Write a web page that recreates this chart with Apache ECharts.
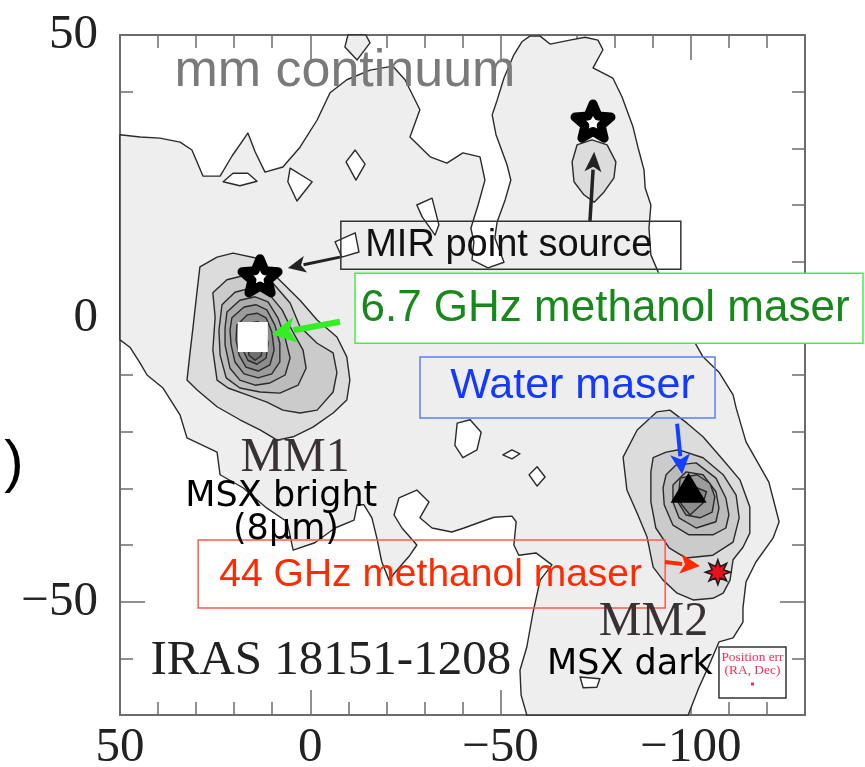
<!DOCTYPE html>
<html><head><meta charset="utf-8">
<script src="https://cdn.jsdelivr.net/npm/echarts@6/dist/echarts.min.js"></script>
<style>html,body{margin:0;padding:0;background:#fff}#chart{width:865px;height:767px}</style>
</head><body><div id="chart"></div>
<script>
// ---------- axis ranges & ticks (arcsec offsets) ----------
const X_MIN = -130, X_MAX = 50, Y_MIN = -70, Y_MAX = 50;
const xMajorTicks = [50, 0, -50, -100];
const yMajorTicks = [50, 0, -50];

// ---------- lowest contour level (outer boundary, arcsec) ----------
const level1Region = [[50,32.4],[44.7,32.0],[39.5,31.8],[34.2,31.1],[31.1,29.7],[28.2,25.1],[23.7,25.1],[20.6,28.6],[16.4,32.7],[14.5,29.4],[11.9,25.8],[7.2,26.7],[2.7,30.2],[-1.8,35.0],[-5.2,39.8],[-9.6,42.1],[-15.7,43.8],[-21.7,44.5],[-24.9,42.1],[-28.8,36.8],[-26.2,32.0],[-31.5,28.5],[-35.9,27.4],[-40.1,29.2],[-44.6,28.5],[-45.9,24.4],[-44.1,20.0],[-42.2,15.9],[-43.0,13.5],[-42.5,10.3],[-46.7,8.9],[-50.9,9.9],[-48.5,14.2],[-49.1,17.0],[-51.2,20.9],[-52.7,24.4],[-51.7,27.1],[-48.8,32.4],[-47.8,35.9],[-49.1,38.5],[-50.9,42.4],[-53.5,46.5],[-55.6,48.8],[-57.7,49.8],[-60.4,49.8],[-63.0,48.4],[-68.2,49.1],[-72.2,49.6],[-75.6,49.1],[-76.9,47.4],[-74.3,44.2],[-79.5,42.4],[-81.9,39.1],[-84.8,33.8],[-86.1,30.2],[-87.7,26.2],[-88.0,23.0],[-89.5,20.0],[-89.0,15.9],[-89.5,11.2],[-91.4,8.2],[-97.2,1.5],[-101.4,-4.7],[-103.2,-6.8],[-107.4,-9.5],[-111.1,-13.5],[-111.9,-15.8],[-114.5,-21.8],[-120.5,-28.9],[-123.2,-35.9],[-121.6,-38.8],[-117.1,-43.0],[-114.5,-46.5],[-113.7,-51.1],[-113.7,-53.6],[-111.1,-56.4],[-107.4,-57.1],[-104.8,-61.2],[-102.1,-65.2],[-100.0,-68.8],[-99.3,-70],[-56.9,-70],[-55.4,-66.5],[-55.1,-62.1],[-56.9,-58.0],[-58.5,-52.0],[-60.4,-46.2],[-63.5,-43.5],[-59.3,-41.4],[-54.8,-41.8],[-53.5,-40.0],[-54.1,-35.9],[-53.0,-34.9],[-48.3,-35.1],[-44.9,-35.9],[-40.4,-37.0],[-37.2,-37.7],[-32.0,-37.0],[-28.8,-35.2],[-31.2,-32.4],[-28.0,-30.3],[-23.3,-31.7],[-22.0,-34.7],[-24.1,-37.0],[-28.0,-40.0],[-26.2,-41.8],[-22.3,-44.8],[-20.7,-46.2],[-18.8,-43.0],[-17.5,-38.8],[-16.2,-35.2],[-14.1,-32.9],[-12.3,-32.9],[-11.5,-35.6],[-6.5,-37.0],[-1.2,-39.6],[4.5,-40.9],[6.1,-35.9],[11.4,-33.5],[17.7,-29.9],[23.7,-27.6],[24.5,-23.6],[32.4,-21.1],[34.2,-17.1],[38.7,-12.3],[42.9,-10.0],[44.7,-7.9],[47.4,-5.1],[50,-3.8]];

const level1Islands = [
  [[-9.9,50],[-9.1,47.9],[-12.3,45.6],[-15.7,48.6],[-14.6,50]]
];

const level1Holes = [
  [[22.9,24.1],[20.3,25.6],[16.4,25.6],[14.0,24.2],[18.5,23.4]],
  [[5.3,26.5],[-0.5,24.1],[3.5,20.7],[5.9,24.1]],
  [[-11.8,29.7],[-14.4,27.2],[-12.0,24.4],[-9.4,27.6]],
  [[-28.0,20.0],[-32.0,21.2],[-33.8,16.5],[-32.8,14.7],[-29.4,17.9]],
  [[-6.5,13.5],[-11.8,15.1],[-12.8,11.7],[-8.3,10.8]],
  [[-38.6,-18.5],[-42.0,-17.9],[-44.9,-20.1],[-43.8,-23.2],[-40.1,-24.6],[-38.0,-22.4]],
  [[-50.6,-24.1],[-53.0,-23.2],[-55.1,-23.9],[-53.0,-24.8]],
  [[-57.5,-27.6],[-59.6,-26.2],[-61.7,-28.0],[-59.6,-29.6]],
  [[-70.9,-63.3],[-76.1,-63.6],[-75.3,-65.1],[-71.7,-65.2]]
];

// ---------- higher contour levels ----------
const mirSourceLevel2 = [[-70.1,30.6],[-74.0,31.5],[-78.0,30.6],[-80.3,27.6],[-79.8,24.8],[-77.2,22.3],[-74.6,20.5],[-71.9,21.8],[-69.3,24.1],[-68.8,27.6]];

const mm1Levels = [
  [[29.0,9.1],[24.5,10.8],[20.3,11.5],[14.0,10.6],[7.2,6.2],[2.7,3.2],[-1.8,-0.3],[-7.0,-3.3],[-9.6,-6.8],[-10.4,-10.9],[-9.6,-14.4],[-6.0,-16.7],[-0.7,-19.2],[4.5,-20.9],[8.7,-21.5],[13.2,-19.7],[18.5,-17.9],[24.5,-15.6],[29.8,-12.6],[32.4,-10.9],[31.6,-6.1],[30.8,-1.5],[29.8,4.5]],
  [[25.6,4.5],[21.9,6.8],[17.2,7.6],[12.7,7.1],[9.8,6.2],[5.3,2.7],[2.7,-1.5],[-1.8,-4.4],[-6.0,-6.1],[-7.0,-9.6],[-6.0,-13.0],[-1.8,-16.2],[2.7,-16.7],[7.2,-16.2],[11.4,-14.8],[16.6,-13.5],[21.6,-12.3],[24.5,-10.9],[25.6,-5.6],[25.0,0.2]],
  [[23.2,2.4],[19.8,4.6],[15.3,5.4],[11.1,4.5],[7.4,1.5],[4.8,-2.1],[1.9,-5.6],[1.1,-8.8],[3.2,-11.8],[8.0,-13.2],[13.2,-13.0],[18.5,-12.3],[22.1,-10.5],[23.7,-6.5],[24.0,-2.1]],
  [[21.9,1.1],[18.5,3.2],[14.5,3.8],[11.1,2.9],[8.5,0.1],[6.6,-3.5],[5.3,-7.0],[6.6,-10.0],[10.6,-11.4],[14.5,-11.8],[18.5,-10.9],[21.1,-8.8],[22.4,-4.7],[22.4,-1.7]],
  [[20.6,0.1],[17.4,2.0],[14.3,2.4],[11.4,1.5],[9.3,-1.2],[8.0,-4.4],[8.0,-7.7],[10.1,-9.8],[13.7,-10.5],[17.4,-9.8],[19.8,-7.7],[20.8,-4.7],[21.1,-2.1]],
  [[19.3,-1.2],[16.6,0.6],[14.0,0.9],[11.6,0.1],[10.1,-2.4],[9.5,-5.6],[10.6,-8.2],[13.7,-9.3],[16.9,-8.6],[18.7,-6.5],[19.5,-3.8]],
  [[17.9,-2.4],[15.8,-0.8],[13.7,-0.6],[11.9,-1.7],[11.1,-4.4],[11.6,-7.0],[14.0,-8.1],[16.4,-7.4],[17.7,-5.6]],
  [[16.6,-3.8],[15.1,-2.6],[13.2,-2.8],[12.4,-4.7],[12.9,-6.6],[14.5,-7.4],[16.1,-6.5]]
];

const mm2Levels = [
  [[-82.2,-24.5],[-85.9,-19.7],[-91.1,-16.5],[-94.5,-16.2],[-99.0,-18.5],[-103.2,-20.9],[-108.5,-25.0],[-112.9,-28.5],[-115.5,-33.3],[-115.5,-37.9],[-113.7,-40.4],[-111.1,-42.6],[-110.3,-46.2],[-108.5,-48.5],[-105.8,-49.4],[-100.6,-49.7],[-96.4,-48.5],[-92.7,-46.2],[-90.1,-43.9],[-88.5,-38.6],[-85.9,-34.4],[-83.2,-30.3]],
  [[-90.1,-24.6],[-93.5,-23.6],[-96.9,-23.2],[-103.2,-24.6],[-108.5,-27.6],[-111.9,-31.2],[-112.7,-35.2],[-111.1,-39.5],[-105.8,-41.8],[-98.7,-42.3],[-94.3,-40.5],[-90.8,-37.0],[-89.5,-32.4],[-89.5,-27.1]],
  [[-93.5,-27.6],[-96.1,-25.9],[-101.4,-25.5],[-106.6,-28.2],[-109.2,-31.7],[-110.0,-34.7],[-109.2,-37.0],[-105.8,-38.2],[-99.5,-38.2],[-95.3,-36.5],[-93.0,-32.9],[-92.7,-29.9]],
  [[-95.3,-29.4],[-98.7,-27.1],[-103.2,-27.6],[-106.6,-30.6],[-107.4,-33.5],[-106.6,-35.9],[-101.4,-37.0],[-96.9,-35.2],[-95.3,-32.4]],
  [[-97.2,-28.2],[-101.6,-27.6],[-105.0,-29.1],[-106.3,-31.5],[-105.6,-34.2],[-102.4,-35.2],[-98.7,-34.7],[-96.6,-32.4]],
  [[-96.6,-31.2],[-99.8,-29.4],[-104.1,-30.6],[-103.2,-32.6],[-99.8,-34.7],[-97.6,-32.9]]
];

// ---------- point sources / masers ----------
const mirPointSources = [[13.2, 7.5], [-74.3, 34.8]];
const methanol67Masers = [[15.1, -3.3]];
const waterMasers = [[-99.4, -29.9]];
const methanol44Masers = [[-107.1, -44.8]];

// ---------- annotations ----------
const boxedLabels = ['MIR point source', '6.7 GHz methanol maser', 'Water maser', '44 GHz methanol maser'];
const boxedLabelAnchors = [[-52.7, 12.9], [-78.5, 1.8], [-67.6, -12.2], [-31.9, -45.1]];
const plainLabels = ['mm continuum', 'MM1', 'MSX bright', '(8\u03bcm)', 'MM2', 'MSX dark', 'IRAS 18151-1208', ')'];
const plainLabelAnchors = [[-9.1, 43.6], [4.0, -24.8], [7.6, -31.5], [6.4, -37.4], [-90.2, -53.6], [-84.0, -61.1], [-5.4, -60.5], [77.9, -25.9]];
const arrowFrom = [[-7.8, 10.8], [-73.5, 17.2], [-7.8, -0.6], [-96.4, -18.6], [-93.2, -43.0]];
const arrowTo = [[5.9, 8.9], [-74.6, 29.4], [10.1, -2.8], [-97.7, -27.5], [-102.4, -43.7]];
const posErrAnchor = [[-116.2, -62.5]];

// ---------- styles ----------
const levelFills = ['#eeeeee', '#dcdcdc', '#cbcbcb', '#bbbbbb', '#ababab', '#9c9c9c', '#8d8d8d', '#7e7e7e', '#707070'];
const lineColor = '#2a2a2a';
const frameColor = '#6c6c6c';
const boxStyles = [
  {w: 340, h: 48, size: 38, color: '#111111', border: '#333333', fill: 'rgba(0,0,0,0)', dx: -2, dy: 0},
  {w: 508, h: 70, size: 44, color: '#17891a', border: '#44ee44', fill: '#ffffff', dx: -4, dy: 1},
  {w: 295, h: 61, size: 43, color: '#1438ff', border: '#5a7cff', fill: 'rgba(0,0,0,0)', dx: 5, dy: -1},
  {w: 467, h: 68, size: 39, color: '#ff2a00', border: '#ff5a4a', fill: 'rgba(0,0,0,0)', dx: -1, dy: 1}
];
const plainStyles = [
  {size: 52, family: 'Liberation Sans', color: '#7a7a7a'},
  {size: 48, family: 'Liberation Serif', color: '#3a3232'},
  {size: 35, family: 'DejaVu Sans', color: '#000000'},
  {size: 35, family: 'DejaVu Sans', color: '#000000'},
  {size: 48, family: 'Liberation Serif', color: '#3a3232'},
  {size: 35, family: 'DejaVu Sans', color: '#000000'},
  {size: 49, family: 'Liberation Serif', color: '#222222'},
  {size: 58, family: 'Liberation Sans', color: '#000000'}
];
const arrowStyles = [
  {color: '#222222', w: 3, hl: 18, hw: 17},
  {color: '#222222', w: 3.5, hl: 20, hw: 17},
  {color: '#33ee22', w: 6, hl: 24, hw: 26},
  {color: '#1440ff', w: 4, hl: 20, hw: 20},
  {color: '#ff2a00', w: 4, hl: 20, hw: 20}
];

function starPath(n, rIn) {
  let d = '';
  for (let i = 0; i < 2 * n; i++) {
    const r = i % 2 ? rIn : 1;
    const a = -Math.PI / 2 + i * Math.PI / n;
    d += (i ? 'L' : 'M') + (50 + 50 * r * Math.cos(a)).toFixed(2) + ' ' + (50 + 50 * r * Math.sin(a)).toFixed(2);
  }
  return 'path://' + d + 'Z';
}
const fmt = v => v < 0 ? '\u2212' + (-v) : String(v);

function polySeries(polys, fillFn) {
  return {
    type: 'custom', silent: true, animation: false, clip: false,
    xAxisIndex: 0, yAxisIndex: 0,
    data: polys.map((p, i) => [p[0][0], p[0][1], i]),
    encode: {x: 0, y: 1},
    renderItem: (params, api) => {
      const i = params.dataIndex;
      const pts = polys[i].map(q => api.coord(q));
      return {type: 'polygon', shape: {points: pts},
        style: {fill: fillFn(i), stroke: lineColor, lineWidth: 1.4, lineJoin: 'round'}};
    }
  };
}

function axisX(pos, major) {
  return {
    type: 'value', gridIndex: 0, position: pos, min: X_MIN, max: X_MAX, inverse: true, interval: 10,
    axisLine: {show: !major, onZero: false, lineStyle: {color: frameColor, width: 2}},
    axisTick: major ? {show: true, inside: true, length: 25, customValues: xMajorTicks, lineStyle: {color: frameColor, width: 1.5}}
                    : {show: true, inside: true, length: 13, lineStyle: {color: frameColor, width: 1.5}},
    axisLabel: (major && pos === 'bottom') ? {show: true, customValues: xMajorTicks, margin: 9, fontFamily: 'Liberation Serif', fontSize: 49, color: '#222', formatter: fmt}
                                          : {show: false},
    splitLine: {show: false}
  };
}
function axisY(pos, major) {
  return {
    type: 'value', gridIndex: 0, position: pos, min: Y_MIN, max: Y_MAX, interval: 10,
    axisLine: {show: !major, onZero: false, lineStyle: {color: frameColor, width: 2}},
    axisTick: major ? {show: true, inside: true, length: 25, customValues: yMajorTicks, lineStyle: {color: frameColor, width: 1.5}}
                    : {show: true, inside: true, length: 13, lineStyle: {color: frameColor, width: 1.5}},
    axisLabel: (major && pos === 'left') ? {show: true, customValues: yMajorTicks, margin: 22, fontFamily: 'Liberation Serif', fontSize: 49, color: '#222', formatter: fmt}
                                        : {show: false},
    splitLine: {show: false}
  };
}

function arrowEls(p0, p1, s) {
  const dx = p1[0] - p0[0], dy = p1[1] - p0[1], L = Math.hypot(dx, dy), ux = dx / L, uy = dy / L;
  const bx = p1[0] - ux * s.hl, by = p1[1] - uy * s.hl;
  return [
    {type: 'line', shape: {x1: p0[0], y1: p0[1], x2: bx + ux * 2, y2: by + uy * 2}, style: {stroke: s.color, lineWidth: s.w}},
    {type: 'polygon', shape: {points: [[p1[0], p1[1]], [bx - uy * s.hw / 2, by + ux * s.hw / 2], [bx + ux * s.hl * 0.25, by + uy * s.hl * 0.25], [bx + uy * s.hw / 2, by - ux * s.hw / 2]]}, style: {fill: s.color}}
  ];
}

const chart = echarts.init(document.getElementById('chart'), null, {renderer: 'canvas'});
chart.setOption({
  animation: false,
  backgroundColor: '#ffffff',
  grid: {left: 120, top: 35, right: 60, bottom: 52, show: false, containLabel: false, outerBoundsMode: 'none'},
  xAxis: [axisX('bottom', false), axisX('bottom', true), axisX('top', false), axisX('top', true)],
  yAxis: [axisY('left', false), axisY('left', true), axisY('right', false), axisY('right', true)],
  series: [
    polySeries([level1Region], () => levelFills[0]),
    polySeries(level1Islands, () => levelFills[0]),
    polySeries(level1Holes, () => '#ffffff'),
    polySeries([mirSourceLevel2], () => levelFills[1]),
    polySeries(mm1Levels, i => levelFills[i + 1]),
    polySeries(mm2Levels, i => levelFills[i + 1]),
    {type: 'scatter', silent: true, data: mirPointSources, symbol: starPath(5, 0.45), symbolSize: 36, symbolKeepAspect: true,
      itemStyle: {color: '#ffffff', borderColor: '#000000', borderWidth: 9, borderJoin: 'round', opacity: 1}},
    {type: 'scatter', silent: true, data: methanol67Masers, symbol: 'rect', symbolSize: 30, itemStyle: {color: '#ffffff', opacity: 1}},
    {type: 'scatter', silent: true, data: waterMasers, symbol: 'triangle', symbolSize: [36, 30], itemStyle: {color: '#000000', opacity: 1}},
    {type: 'scatter', silent: true, data: methanol44Masers, symbol: starPath(8, 0.5), symbolSize: 25, itemStyle: {color: '#e8101c', borderColor: '#1a1a1a', borderWidth: 1.5, opacity: 1}},
    {
      type: 'custom', silent: true, animation: false, clip: false,
      data: boxedLabelAnchors.map((a, i) => [a[0], a[1], i]), encode: {x: 0, y: 1},
      renderItem: (params, api) => {
        const i = params.dataIndex, s = boxStyles[i], c = api.coord(boxedLabelAnchors[i]);
        return {type: 'group', children: [
          {type: 'rect', shape: {x: c[0] - s.w / 2, y: c[1] - s.h / 2, width: s.w, height: s.h}, style: {fill: s.fill, stroke: s.border, lineWidth: 1.5}},
          {type: 'text', x: c[0] + s.dx, y: c[1] + s.dy, style: {text: boxedLabels[i], fontSize: s.size, fontFamily: 'Liberation Sans', fill: s.color, align: 'center', verticalAlign: 'middle'}}
        ]};
      }
    },
    {
      type: 'custom', silent: true, animation: false, clip: false,
      data: plainLabelAnchors.map((a, i) => [a[0], a[1], i]), encode: {x: 0, y: 1},
      renderItem: (params, api) => {
        const i = params.dataIndex, s = plainStyles[i], c = api.coord(plainLabelAnchors[i]);
        return {type: 'text', x: c[0], y: c[1], style: {text: plainLabels[i], fontSize: s.size, fontFamily: s.family, fill: s.color, align: 'center', verticalAlign: 'middle'}};
      }
    },
    {
      type: 'custom', silent: true, animation: false, clip: false,
      data: posErrAnchor, encode: {x: 0, y: 1},
      renderItem: (params, api) => {
        const c = api.coord(posErrAnchor[0]);
        const t = (txt, dy, fs) => ({type: 'text', x: c[0], y: c[1] + dy, style: {text: txt, fontSize: fs, fontFamily: 'Liberation Serif', fill: '#ff2a55', align: 'center', verticalAlign: 'middle'}});
        return {type: 'group', children: [
          {type: 'rect', shape: {x: c[0] - 33.5, y: c[1] - 25.5, width: 67, height: 51}, style: {fill: '#ffffff', stroke: '#333333', lineWidth: 1.5}},
          t('Position err', -15, 13.4), t('(RA, Dec)', -2, 13.4),
          {type: 'rect', shape: {x: c[0] - 1.5, y: c[1] + 10, width: 3, height: 3}, style: {fill: '#ff2a55'}}
        ]};
      }
    },
    {
      type: 'custom', silent: true, animation: false, clip: false,
      data: arrowFrom.map((a, i) => [a[0], a[1], i]), encode: {x: 0, y: 1},
      renderItem: (params, api) => {
        const i = params.dataIndex;
        return {type: 'group', children: arrowEls(api.coord(arrowFrom[i]), api.coord(arrowTo[i]), arrowStyles[i])};
      }
    }
  ]
});
</script></body></html>
